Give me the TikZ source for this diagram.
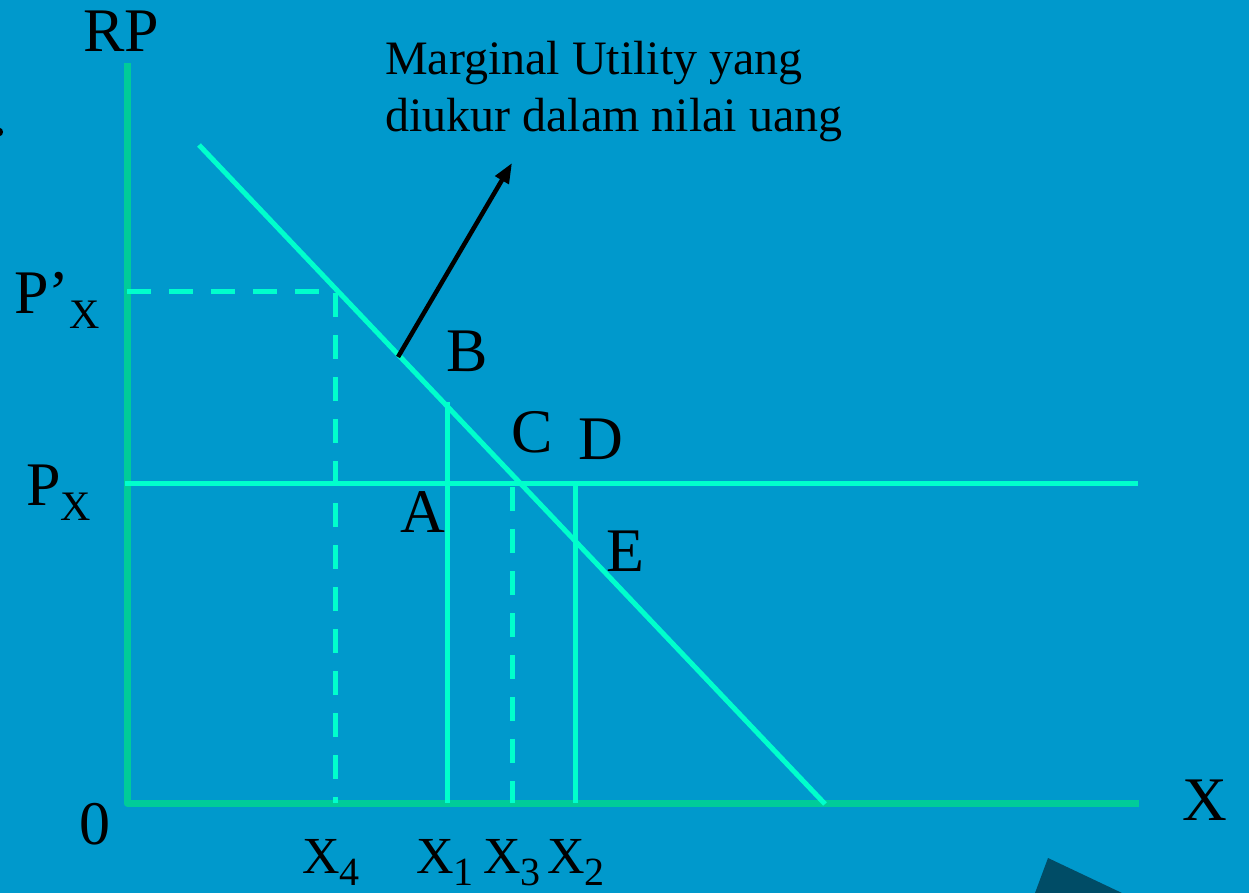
\documentclass[tikz,border=0pt]{standalone}
\usepackage{fontspec}
\setmainfont{Liberation Serif}
\usetikzlibrary{arrows.meta}
\definecolor{bgblue}{HTML}{0099CC}
\definecolor{axisgreen}{HTML}{00CC99}
\definecolor{linecyan}{HTML}{00FFCC}
\definecolor{darkteal}{HTML}{004C66}
\newcommand\mysubA[2]{#1\raisebox{-15pt}{\fontsize{42}{42}\selectfont #2}}
\newcommand\mysubB[2]{#1\raisebox{-12pt}{\fontsize{40}{40}\selectfont #2}}
\begin{document}
\begin{tikzpicture}[x=1pt,y=-1pt,
  axisline/.style={draw=axisgreen,line width=7pt,line join=round},
  curveline/.style={draw=linecyan,line width=5pt},
  dashline/.style={draw=linecyan,line width=5pt,dash pattern=on 24pt off 18pt},
  biglbl/.style={inner sep=0pt,anchor=base west,font=\fontsize{62}{62}\selectfont},
  axlbl/.style={inner sep=0pt,anchor=base west,font=\fontsize{52}{52}\selectfont},
  notelbl/.style={inner sep=0pt,anchor=base west,font=\fontsize{48}{48}\selectfont},
  pointer/.style={draw=black,line width=4.5pt,-{Triangle[length=20pt,width=15pt]}}]
\useasboundingbox (0,0) rectangle (1249,893);
\fill[bgblue] (0,0) rectangle (1249,893);
% dark shape bottom right
\fill[darkteal] (1048,858) -- (1122,893) -- (1035,893) -- cycle;
% tiny mark at left edge
\fill[black] (0,132) ellipse [x radius=3pt,y radius=4pt];
% coordinates
\coordinate (ytop) at (127,63);
\coordinate (orig) at (127,803);
\coordinate (xend) at (1139,803);
\coordinate (d1) at (199,145);
\coordinate (d2) at (825,804);
\coordinate (pxl) at (125,483);
\coordinate (pxr) at (1138,483);
\coordinate (ppl) at (127,291);
\coordinate (ppr) at (333,291);
\coordinate (x4t) at (335,293);
\coordinate (x4b) at (335,803);
\coordinate (x1t) at (447,402);
\coordinate (x1b) at (447,803);
\coordinate (x3t) at (512,487);
\coordinate (x3b) at (512,803);
\coordinate (x2t) at (575,483);
\coordinate (x2b) at (575,803);
\coordinate (arS) at (398,357);
\coordinate (arE) at (512,163);
% axes
\draw[axisline] (ytop) -- (orig) -- (xend);
% guide lines
\draw[dashline] (ppl) -- (ppr);
\draw[dashline] (x4t) -- (x4b);
\draw[dashline] (x3t) -- (x3b);
\draw[curveline] (x1t) -- (x1b);
\draw[curveline] (x2t) -- (x2b);
\draw[curveline] (pxl) -- (pxr);
% demand / MU curve
\draw[curveline] (d1) -- (d2);
% pointer arrow
\draw[pointer] (arS) -- (arE);
% labels
\node[biglbl] (rp) at (83,52) {RP};
\node[biglbl] (ppx) at (14,313) {\mysubA{P’}{X}};
\node[biglbl] (px) at (26,505) {\mysubA{P}{X}};
\node[biglbl,anchor=base] (zero) at (95,844) {0};
\node[biglbl] (xlab) at (1182,820) {X};
\node[biglbl] (lB) at (446,371) {B};
\node[biglbl] (lC) at (511,452) {C};
\node[biglbl] (lD) at (578,459) {D};
\node[biglbl] (lA) at (400,532) {A};
\node[biglbl] (lE) at (606,571) {E};
\node[axlbl] (lx4) at (302,873) {\mysubB{X}{4}};
\node[axlbl] (lx1) at (416,873) {\mysubB{X}{1}};
\node[axlbl] (lx3) at (483,873) {\mysubB{X}{3}};
\node[axlbl] (lx2) at (547,873) {\mysubB{X}{2}};
\node[notelbl] (note1) at (385,75) {Marginal Utility yang};
\node[notelbl] (note2) at (385,132) {diukur dalam nilai uang};
\end{tikzpicture}
\end{document}
